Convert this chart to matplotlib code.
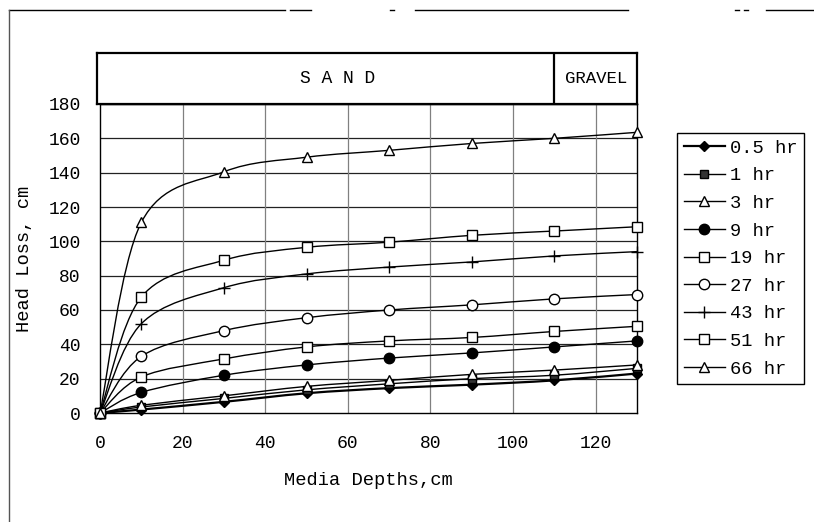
import matplotlib
matplotlib.use("Agg")
import matplotlib.pyplot as plt
from matplotlib.path import Path
from matplotlib.patches import PathPatch
from matplotlib.lines import Line2D
import numpy as np

# Media depth (cm) at which head loss was measured
depths = [0, 10, 30, 50, 70, 90, 110, 130]

# Head loss (cm) for each filtration run time
loss_0_5hr = [0, 2, 6.5, 11.5, 14.5, 16.5, 19, 23]
loss_1hr = [0, 3.5, 8.5, 13.5, 17, 20, 22, 26]
loss_3hr = [0, 4.5, 10, 15.5, 19, 22.5, 25, 28]
loss_9hr = [0, 12, 22, 28, 32, 35, 38.5, 42]
loss_19hr = [0, 21, 31.5, 38.5, 42, 44, 47.5, 50.5]
loss_27hr = [0, 33, 48, 55.5, 60, 63, 66.5, 69]
loss_43hr = [0, 52, 73, 81, 85, 88, 91.5, 94]
loss_51hr = [0, 67.5, 89, 96.5, 99.5, 103.5, 106, 108.5]
loss_66hr = [0, 111, 140.5, 149, 153, 157, 160, 163.5]

run_labels = ["0.5 hr", "1 hr", "3 hr", "9 hr", "19 hr", "27 hr", "43 hr", "51 hr", "66 hr"]
x_ticks = [0, 20, 40, 60, 80, 100, 120]
y_ticks = [0, 20, 40, 60, 80, 100, 120, 140, 160, 180]

FONT = "Liberation Mono"

series = [loss_0_5hr, loss_1hr, loss_3hr, loss_9hr, loss_19hr,
          loss_27hr, loss_43hr, loss_51hr, loss_66hr]
# marker, size, face colour, line width
styles = [
    ("D", 5.5, "black", 1.6),
    ("s", 5.5, "#333333", 1.0),
    ("^", 7.5, "white", 1.0),
    ("o", 7.5, "black", 1.0),
    ("s", 7.5, "white", 1.0),
    ("o", 7.5, "white", 1.0),
    ("+", 9.0, "black", 1.0),
    ("s", 7.5, "white", 1.0),
    ("^", 7.5, "white", 1.0),
]


def smooth_path(xs, ys):
    """Cardinal (Catmull-Rom) Bezier path through the points."""
    pts = np.column_stack([xs, ys]).astype(float)
    n = len(pts)
    verts = [pts[0]]
    codes = [Path.MOVETO]
    for i in range(n - 1):
        p0 = pts[max(i - 1, 0)]
        p1 = pts[i]
        p2 = pts[i + 1]
        p3 = pts[min(i + 2, n - 1)]
        c1 = p1 + (p2 - p0) / 6.0
        c2 = p2 - (p3 - p1) / 6.0
        verts += [c1, c2, p2]
        codes += [Path.CURVE4] * 3
    return Path(verts, codes)


fig = plt.figure(figsize=(8.14, 5.22), dpi=100)
W, H = 814.0, 522.0

ax = fig.add_axes([100 / W, 1 - 413 / H, 537 / W, 309 / H])
ax.set_xlim(0, 130)
ax.set_ylim(0, 180)
ax.set_xticks(x_ticks)
ax.set_yticks(y_ticks)
ax.set_xticklabels([str(v) for v in x_ticks], fontfamily=FONT, fontsize=13)
ax.set_yticklabels([str(v) for v in y_ticks], fontfamily=FONT, fontsize=13)
ax.tick_params(axis="x", length=0, pad=16)
ax.tick_params(axis="y", length=0, pad=14)
for s in ax.spines.values():
    s.set_linewidth(1.0)
    s.set_color("black")

for v in y_ticks[1:]:
    ax.axhline(v, color="#222222", lw=0.9, zorder=1)
for v in x_ticks[1:]:
    ax.axvline(v, color="#808080", lw=0.9, zorder=1)

for ys, (mk, ms, fc, lw) in zip(series, styles):
    ax.add_patch(PathPatch(smooth_path(depths, ys), fill=False,
                           edgecolor="black", lw=lw, zorder=3))
    ax.plot(depths, ys, linestyle="none", marker=mk, markersize=ms,
            markerfacecolor=fc, markeredgecolor="black",
            markeredgewidth=1.0, zorder=4, clip_on=False)

ax.set_xlabel("Media Depths,cm", fontfamily=FONT, fontsize=13.5, labelpad=14)
ax.set_ylabel("Head Loss, cm", fontfamily=FONT, fontsize=13.5)
ax.yaxis.set_label_coords(-0.125, 0.5)

handles = [Line2D([], [], color="black", lw=lw, marker=mk, markersize=ms,
                  markerfacecolor=fc, markeredgecolor="black")
           for (mk, ms, fc, lw) in styles]
leg = fig.legend(handles, run_labels, loc="upper left",
                 bbox_to_anchor=(677 / W, 1 - 133 / H),
                 bbox_transform=fig.transFigure,
                 prop={"family": FONT, "size": 13.5},
                 frameon=True, fancybox=False, framealpha=1,
                 edgecolor="black", borderpad=0.35, labelspacing=0.56,
                 handlelength=2.2, handletextpad=0.25, borderaxespad=0)
leg.get_frame().set_linewidth(1.0)

# Soil layer band above the plot
bx = fig.add_axes([97 / W, 1 - 104 / H, 540 / W, 51 / H])
bx.set_xlim(-3 / 4.13, 130)
bx.set_ylim(0, 1)
bx.set_xticks([])
bx.set_yticks([])
for s in bx.spines.values():
    s.set_linewidth(1.6)
    s.set_color("black")
bx.axvline(110, color="black", lw=1.6)
bx.text(57.5, 0.5, "S A N D", ha="center", va="center",
        fontfamily=FONT, fontsize=13)
bx.text(120, 0.5, "GRAVEL", ha="center", va="center",
        fontfamily=FONT, fontsize=12.5)

# Page frame lines
for x0, x1 in [(9, 285), (290, 311), (390, 394), (415, 628),
               (735, 739), (744, 748), (766, 814)]:
    fig.add_artist(Line2D([x0 / W, x1 / W], [1 - 10 / H, 1 - 10 / H],
                          color="black", lw=1.0, transform=fig.transFigure))
fig.add_artist(Line2D([9 / W, 9 / W], [1 - 10 / H, 0], color="#555555",
                      lw=1.0, transform=fig.transFigure))

fig.savefig("out.png", dpi=100)
